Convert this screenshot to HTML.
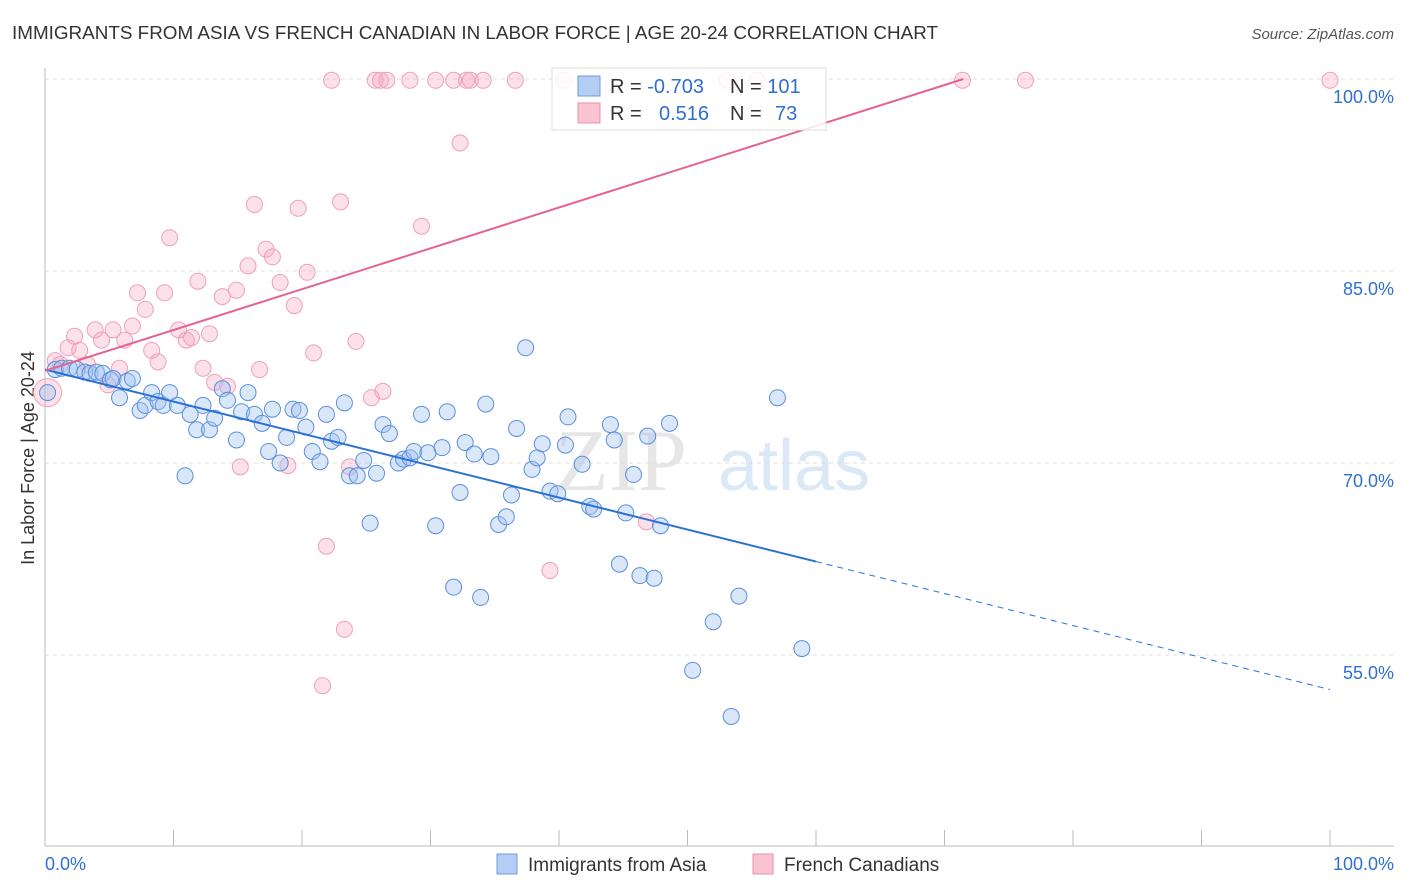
<!DOCTYPE html>
<html><head><meta charset="utf-8"><style>
body{margin:0;background:#fff;font-family:"Liberation Sans",sans-serif;}
svg{display:block}
</style></head><body>
<svg id="chart" width="1406" height="892">
<text x="12" y="39" font-size="18.5" fill="#333" textLength="926" lengthAdjust="spacingAndGlyphs">IMMIGRANTS FROM ASIA VS FRENCH CANADIAN IN LABOR FORCE | AGE 20-24 CORRELATION CHART</text>
<text x="1394" y="39" font-size="15" fill="#555" font-style="italic" text-anchor="end">Source: ZipAtlas.com</text>
<text x="34" y="458" font-size="18" fill="#333" text-anchor="middle" transform="rotate(-90 34 458)">In Labor Force | Age 20-24</text>
<g><text x="555" y="490" font-size="88" fill="#e6e6e6" font-family="Liberation Serif,serif">ZIP</text><text x="718" y="490" font-size="72" fill="#dce8f6">atlas</text></g>
<g id="grid"></g><g id="pts"></g><g id="lines"></g>
<g>
<rect x="552" y="68" width="274" height="62" fill="#fff" fill-opacity="0.85" stroke="#ddd"/>
<rect x="578" y="76" width="22" height="20" fill="#b4cef3" stroke="#6d9be0"/>
<rect x="578" y="103" width="22" height="20" fill="#f9c3d2" stroke="#ec8fae"/>
<text x="610" y="93" font-size="20" fill="#333">R = <tspan fill="#2f6fd3">-0.703</tspan></text>
<text x="730" y="93" font-size="20" fill="#333">N = <tspan fill="#2f6fd3">101</tspan></text>
<text x="610" y="120" font-size="20" fill="#333">R = <tspan fill="#2f6fd3" x="659">0.516</tspan></text>
<text x="730" y="120" font-size="20" fill="#333">N = <tspan fill="#2f6fd3" x="775">73</tspan></text>
</g>
<g>
<rect x="497" y="854" width="20" height="20" fill="#b4cef3" stroke="#6d9be0"/>
<text x="528" y="871" font-size="19" fill="#333">Immigrants from Asia</text>
<rect x="753" y="854" width="20" height="20" fill="#f9c3d2" stroke="#ec8fae"/>
<text x="784" y="871" font-size="19" fill="#333">French Canadians</text>
</g>
</svg>
<script>
const yTicks=[55,70,85,100];
const yTickLabels=["55.0%","70.0%","85.0%","100.0%"];
const xTickLabels=["0.0%","100.0%"];
const blueX=[0.2,0.8,1.3,1.9,2.5,3.1,3.5,4.0,4.5,5.1,5.3,5.8,6.4,6.8,7.4,7.8,8.3,8.8,9.2,9.7,10.3,10.9,11.3,11.8,12.3,12.8,13.2,13.8,14.2,14.9,15.3,15.8,16.3,16.9,17.4,17.7,18.3,18.8,19.3,19.8,20.3,20.8,21.4,21.9,22.3,22.8,23.3,23.7,24.3,24.8,25.3,25.8,26.3,26.8,27.5,27.9,28.4,28.7,29.3,29.8,30.4,30.9,31.3,31.8,32.3,32.7,33.4,33.9,34.3,34.7,35.3,35.9,36.3,36.7,37.4,37.9,38.3,38.7,39.3,39.9,40.5,40.7,41.8,42.4,42.7,44.0,44.3,44.7,45.2,45.8,46.3,46.9,47.4,47.9,48.6,50.4,52.0,53.4,54.0,57.0,58.9];
const blueY=[75.5,77.3,77.4,77.4,77.3,77.1,77.0,77.1,77.0,76.5,76.6,75.1,76.4,76.6,74.1,74.5,75.5,74.8,74.5,75.5,74.5,69.0,73.8,72.6,74.5,72.6,73.5,75.8,74.9,71.8,74.0,75.5,73.8,73.1,70.9,74.2,70.0,72.0,74.2,74.1,72.8,70.9,70.1,73.8,71.7,72.0,74.7,69.0,69.0,70.2,65.3,69.2,73.0,72.3,70.0,70.3,70.4,70.9,73.8,70.8,65.1,71.2,74.0,60.3,67.7,71.6,70.7,59.5,74.6,70.5,65.2,65.8,67.5,72.7,79.0,69.5,70.4,71.5,67.8,67.6,71.4,73.6,69.9,66.6,66.4,73.0,71.8,62.1,66.1,69.1,61.2,72.1,61.0,65.1,73.1,53.8,57.6,50.2,59.6,75.1,55.5];
const pinkX=[0.2,0.8,1.2,1.8,2.3,2.7,3.3,3.9,4.4,4.9,5.3,5.8,6.2,6.8,7.2,7.8,8.3,8.8,9.3,9.7,10.4,11.0,11.4,11.9,12.3,12.8,13.2,13.8,14.2,14.9,15.2,15.8,16.3,16.7,17.2,17.7,18.3,18.9,19.4,19.7,20.4,20.9,21.6,21.9,22.3,23.0,23.3,23.7,24.2,25.4,25.7,26.1,26.3,26.6,28.4,29.3,30.4,31.8,32.3,32.8,33.1,34.1,36.6,39.3,40.4,46.8,53.1,55.4,71.4,76.3,100];
const pinkY=[75.5,78.0,77.7,79.0,79.9,78.8,77.7,80.4,79.6,76.1,80.4,77.4,79.6,80.7,83.3,82.0,78.8,77.9,83.3,87.6,80.4,79.6,79.8,84.2,77.4,80.1,76.3,83.0,76.0,83.5,69.7,85.4,90.2,77.3,86.7,86.1,84.1,69.8,82.3,89.9,84.9,78.6,52.6,63.5,99.9,90.4,57.0,69.7,79.5,75.1,99.9,99.9,75.6,99.9,99.9,88.5,99.9,99.9,95.0,99.9,99.9,99.9,99.9,61.6,99.9,65.4,99.9,99.9,99.9,99.9,99.9];
const blueLine=[77.3,52.3], pinkLine=[77.2,109.1];
const NS='http://www.w3.org/2000/svg';
const X=v=>45+v*12.85, Y=v=>79+(100-v)*12.8;
function mk(t,a,p){const e=document.createElementNS(NS,t);for(const k in a)e.setAttribute(k,a[k]);p.appendChild(e);return e;}
const grid=document.getElementById('grid');
yTicks.forEach((t,i)=>{
 const l=mk('line',{x1:45,x2:1394,y1:Y(t),y2:Y(t),stroke:'#ddd','stroke-dasharray':'4,4'},grid);
 
 
 const tx=mk('text',{x:1394,y:Y(t)+24,'font-size':18,fill:'#2f6fd3','text-anchor':'end'},grid);tx.textContent=yTickLabels[i];
 
 
});
const ax=mk('line',{x1:45,x2:1394,y1:846,y2:846,stroke:'#bbb'},grid);


const ay=mk('line',{x1:45,x2:45,y1:68,y2:846,stroke:'#bbb'},grid);


for(let i=0;i<=10;i++){const t=mk('line',{x1:X(i*10),x2:X(i*10),y1:830,y2:846,stroke:'#bbb'},grid);
 
 }
[[0,'start'],[100,'end']].forEach((d,i)=>{const t=mk('text',{x:i?1394:45,y:870,'font-size':18,fill:'#2f6fd3','text-anchor':d[1]},grid);t.textContent=xTickLabels[i];
 
 });
const pts=document.getElementById('pts');
pinkX.forEach((x,i)=>{const c=mk('circle',{cx:X(x),cy:Y(pinkY[i]),r:i==0?14:8,fill:'rgba(245,170,195,0.35)',stroke:'#eea0b8','stroke-width':1},pts);
 
 });
blueX.forEach((x,i)=>{const c=mk('circle',{cx:X(x),cy:Y(blueY[i]),r:8,fill:'rgba(160,195,240,0.4)',stroke:'#5a8fdc','stroke-width':1},pts);
 
 });
const lines=document.getElementById('lines');
const by=x=>blueLine[0]+(blueLine[1]-blueLine[0])*x/100;
const b1=mk('line',{x1:X(0),y1:Y(by(0)),x2:X(60),y2:Y(by(60)),stroke:'#2a6fd6','stroke-width':2},lines);


const b2=mk('line',{x1:X(60),y1:Y(by(60)),x2:X(100),y2:Y(by(100)),stroke:'#2a6fd6','stroke-width':1,'stroke-dasharray':'6,5'},lines);


const xe=(100-pinkLine[0])/(pinkLine[1]-pinkLine[0])*100;
const p1=mk('line',{x1:X(0),y1:Y(pinkLine[0]),x2:X(xe),y2:Y(100),stroke:'#e4638f','stroke-width':2},lines);


</script>
</body></html>
